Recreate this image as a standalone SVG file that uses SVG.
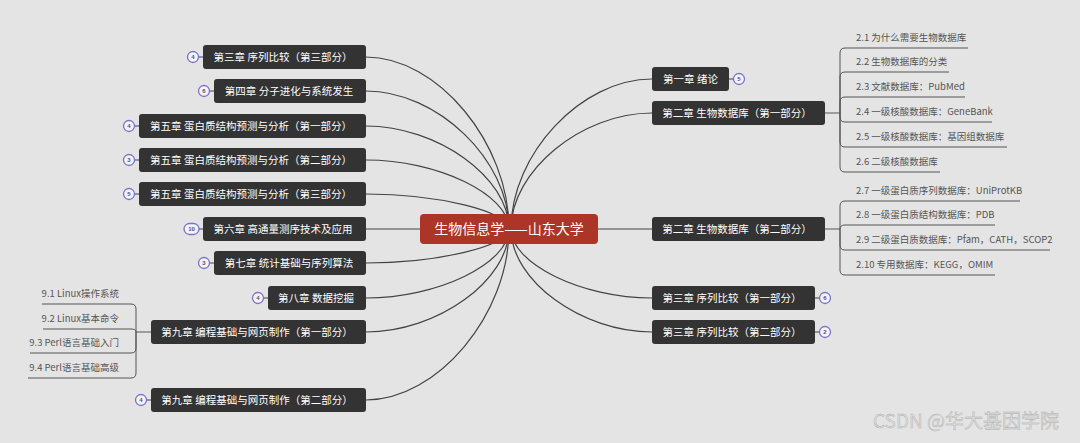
<svg xmlns="http://www.w3.org/2000/svg" width="1080" height="443" viewBox="0 0 1080 443">
<style>
.bg{fill:#e4e4e4}
.node rect.box{fill:#333333}
.node text{fill:#ffffff;font-family:"Noto Sans CJK SC","Microsoft YaHei",sans-serif;font-size:10.5px;text-anchor:middle}
.center rect{fill:#ad3527}
.center text{fill:#ffffff;font-family:"Noto Sans CJK SC",sans-serif;font-size:14px;text-anchor:middle}
.conn path{fill:none;stroke:#444444;stroke-width:1.2}
.sub path{fill:none;stroke:#555555;stroke-width:1}
.sub text{fill:#555555;font-family:"Noto Sans CJK SC",sans-serif;font-size:9.5px}
.badge circle,.badge rect{fill:#f4f3fc;stroke:#7d72c9;stroke-width:1.3}
.badge line{stroke:#444444;stroke-width:1}
.badge text{fill:#555555;font-family:"Liberation Sans",sans-serif;font-size:6px;font-weight:bold;text-anchor:middle}
.wm{fill:#dedede;stroke:#acacac;stroke-width:0.4;font-family:"Noto Sans CJK SC",sans-serif;font-size:19px}
</style>
<rect class="bg" x="0" y="0" width="1080" height="443"/>

<g id="connectors" class="conn">
<path d="M366 57 C437.5 57 509 143 509 229"/>
<path d="M366 91 C437.5 91 509 160 509 229"/>
<path d="M366 126 C437.5 126 509 177.5 509 229"/>
<path d="M366 160 C437.5 160 509 194.5 509 229"/>
<path d="M366 194 C437.5 194 509 211.5 509 229"/>
<path d="M366 229 H420"/>
<path d="M366 263 C437.5 263 509 246 509 229"/>
<path d="M366 298 C437.5 298 509 263.5 509 229"/>
<path d="M366 332 C437.5 332 509 280.5 509 229"/>
<path d="M366 400 C437.5 400 509 314.5 509 229"/>
<path d="M652 79 C581.5 79 511 154 511 229"/>
<path d="M652 113 C581.5 113 511 171 511 229"/>
<path d="M598 229 H652"/>
<path d="M652 298 C581.5 298 511 263.5 511 229"/>
<path d="M652 332 C581.5 332 511 280.5 511 229"/>
</g>

<g id="center" class="center">
<rect x="420" y="214" width="178" height="30" rx="4"/>
<text x="509" y="234">生物信息学——山东大学</text>
</g>

<!-- left nodes -->
<g id="n-ch3-3" class="node">
<rect class="box" x="203" y="45" width="163" height="24" rx="3"/>
<text x="283" y="60.7">第三章 序列比较（第三部分）</text>
<g class="badge"><line x1="198.5" y1="57" x2="203" y2="57"/><circle cx="193" cy="57" r="5.5"/><text x="193" y="59.2">4</text></g>
</g>
<g id="n-ch4" class="node">
<rect class="box" x="214" y="79" width="152" height="24" rx="3"/>
<text x="289" y="94.7">第四章 分子进化与系统发生</text>
<g class="badge"><line x1="209.5" y1="91" x2="214" y2="91"/><circle cx="204" cy="91" r="5.5"/><text x="204" y="93.2">6</text></g>
</g>
<g id="n-ch5-1" class="node">
<rect class="box" x="139" y="114" width="227" height="24" rx="3"/>
<text x="251" y="129.7">第五章 蛋白质结构预测与分析（第一部分）</text>
<g class="badge"><line x1="134.5" y1="126" x2="139" y2="126"/><circle cx="129" cy="126" r="5.5"/><text x="129" y="128.2">4</text></g>
</g>
<g id="n-ch5-2" class="node">
<rect class="box" x="139" y="148" width="227" height="24" rx="3"/>
<text x="251" y="163.7">第五章 蛋白质结构预测与分析（第二部分）</text>
<g class="badge"><line x1="134.5" y1="160" x2="139" y2="160"/><circle cx="129" cy="160" r="5.5"/><text x="129" y="162.2">3</text></g>
</g>
<g id="n-ch5-3" class="node">
<rect class="box" x="139" y="182" width="227" height="24" rx="3"/>
<text x="251" y="197.7">第五章 蛋白质结构预测与分析（第三部分）</text>
<g class="badge"><line x1="134.5" y1="194" x2="139" y2="194"/><circle cx="129" cy="194" r="5.5"/><text x="129" y="196.2">5</text></g>
</g>
<g id="n-ch6" class="node">
<rect class="box" x="203" y="217" width="163" height="24" rx="3"/>
<text x="283" y="232.7">第六章 高通量测序技术及应用</text>
<g class="badge"><line x1="199" y1="229" x2="203" y2="229"/><rect x="184" y="223.5" width="15" height="11" rx="5.5"/><text x="191.5" y="231.2">10</text></g>
</g>
<g id="n-ch7" class="node">
<rect class="box" x="214" y="251" width="152" height="24" rx="3"/>
<text x="289" y="266.7">第七章 统计基础与序列算法</text>
<g class="badge"><line x1="209.5" y1="263" x2="214" y2="263"/><circle cx="204" cy="263" r="5.5"/><text x="204" y="265.2">3</text></g>
</g>
<g id="n-ch8" class="node">
<rect class="box" x="268" y="286" width="98" height="24" rx="3"/>
<text x="316" y="301.7">第八章 数据挖掘</text>
<g class="badge"><line x1="263.5" y1="298" x2="268" y2="298"/><circle cx="258" cy="298" r="5.5"/><text x="258" y="300.2">4</text></g>
</g>
<g id="n-ch9-1" class="node">
<rect class="box" x="151" y="320" width="215" height="24" rx="3"/>
<text x="257" y="335.7">第九章 编程基础与网页制作（第一部分）</text>
</g>
<g id="n-ch9-2" class="node">
<rect class="box" x="151" y="388" width="215" height="24" rx="3"/>
<text x="257" y="403.7">第九章 编程基础与网页制作（第二部分）</text>
<g class="badge"><line x1="146.5" y1="400" x2="151" y2="400"/><circle cx="141" cy="400" r="5.5"/><text x="141" y="402.2">4</text></g>
</g>

<!-- right nodes -->
<g id="n-ch1" class="node">
<rect class="box" x="652" y="67" width="77" height="24" rx="3"/>
<text x="690.5" y="82.7">第一章 绪论</text>
<g class="badge"><line x1="729" y1="79" x2="733.5" y2="79"/><circle cx="739" cy="79" r="5.5"/><text x="739" y="81.2">5</text></g>
</g>
<g id="n-ch2-1" class="node">
<rect class="box" x="652" y="101" width="173" height="24" rx="3"/>
<text x="737" y="116.7">第二章 生物数据库（第一部分）</text>
</g>
<g id="n-ch2-2" class="node">
<rect class="box" x="652" y="217" width="173" height="24" rx="3"/>
<text x="737" y="232.7">第二章 生物数据库（第二部分）</text>
</g>
<g id="n-ch3-1" class="node">
<rect class="box" x="652" y="286" width="163" height="24" rx="3"/>
<text x="732" y="301.7">第三章 序列比较（第一部分）</text>
<g class="badge"><line x1="815" y1="298" x2="819.5" y2="298"/><circle cx="825" cy="298" r="5.5"/><text x="825" y="300.2">6</text></g>
</g>
<g id="n-ch3-2" class="node">
<rect class="box" x="652" y="320" width="163" height="24" rx="3"/>
<text x="732" y="335.7">第三章 序列比较（第二部分）</text>
<g class="badge"><line x1="815" y1="332" x2="819.5" y2="332"/><circle cx="825" cy="332" r="5.5"/><text x="825" y="334.2">2</text></g>
</g>

<!-- sub topics of chapter 2 part 1 -->
<g id="sub-ch2-1" class="sub">
<path d="M825 113 H840"/>
<path d="M840 113 V53 Q840 48 845 48 H968"/>
<path d="M840 113 V77 Q840 72 845 72 H949"/>
<path d="M840 113 V102 Q840 97 845 97 H965"/>
<path d="M840 113 V117 Q840 122 845 122 H992"/>
<path d="M840 113 V142 Q840 147 845 147 H1007"/>
<path d="M840 113 V167 Q840 172 845 172 H940"/>
<text x="856" y="40.5">2.1 为什么需要生物数据库</text>
<text x="856" y="65">2.2 生物数据库的分类</text>
<text x="856" y="90">2.3 文献数据库：PubMed</text>
<text x="856" y="115">2.4 一级核酸数据库：GeneBank</text>
<text x="856" y="140">2.5 一级核酸数据库：基因组数据库</text>
<text x="856" y="165">2.6 二级核酸数据库</text>
</g>

<!-- sub topics of chapter 2 part 2 -->
<g id="sub-ch2-2" class="sub">
<path d="M825 229 H840"/>
<path d="M840 229 V206 Q840 201 845 201 H1020"/>
<path d="M840 229 Q840 225 845 225 H995"/>
<path d="M840 229 V245 Q840 250 845 250 H1050"/>
<path d="M840 229 V270 Q840 275 845 275 H995"/>
<text x="856" y="194">2.7 一级蛋白质序列数据库：UniProtKB</text>
<text x="856" y="218">2.8 一级蛋白质结构数据库：PDB</text>
<text x="856" y="243">2.9 二级蛋白质数据库：Pfam，CATH，SCOP2</text>
<text x="856" y="268">2.10 专用数据库：KEGG，OMIM</text>
</g>

<!-- sub topics of chapter 9 part 1 -->
<g id="sub-ch9-1" class="sub">
<path d="M151 332 H136"/>
<path d="M136 332 V309 Q136 304 131 304 H42"/>
<path d="M136 332 Q136 329 131 329 H43"/>
<path d="M136 332 V348 Q136 353 131 353 H30"/>
<path d="M136 332 V373 Q136 378 131 378 H28"/>
<g style="text-anchor:end">
<text x="119" y="297">9.1 Linux操作系统</text>
<text x="119" y="322">9.2 Linux基本命令</text>
<text x="119" y="346">9.3 Perl语言基础入门</text>
<text x="119" y="371">9.4 Perl语言基础高级</text>
</g>
</g>

<text class="wm" x="873" y="428">CSDN @华大基因学院</text>
</svg>
